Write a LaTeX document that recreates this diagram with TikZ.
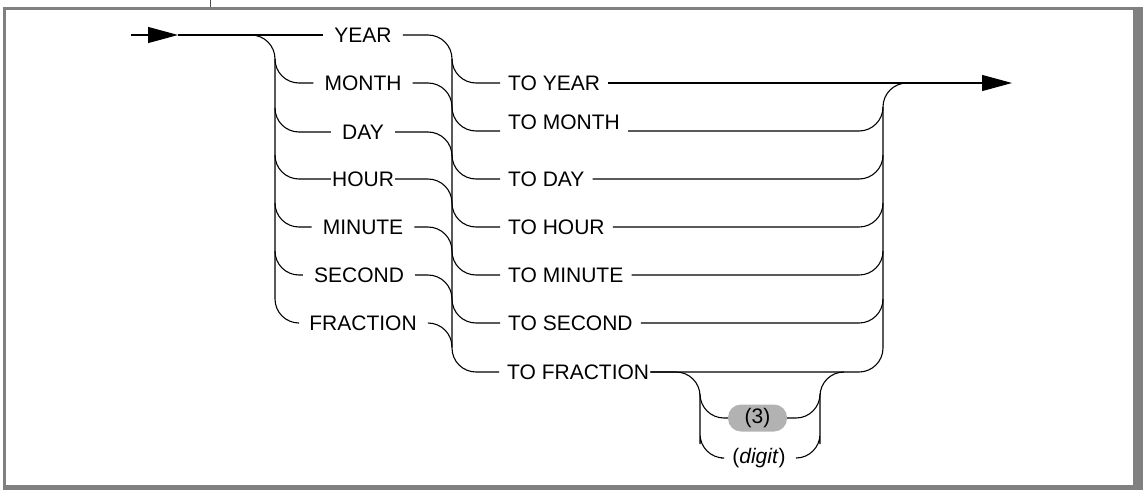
\documentclass[tikz,border=0pt]{standalone}
\usepackage{fontspec}
\setmainfont{Liberation Sans}
\usetikzlibrary{arrows.meta}

\begin{document}
\begin{tikzpicture}[x=1pt, y=-1pt,
    rail/.style={line width=1.1pt, rounded corners=24pt},
    arrow/.style={line width=1.1pt, -{Triangle[length=30pt, width=16pt]}},
    kw/.style={font=\fontsize{21}{25}\selectfont, inner xsep=11pt, inner ysep=2pt},
    tokw/.style={kw, anchor=west, inner xsep=8pt},
    opt/.style={kw, fill=black!30, rounded corners=13pt, minimum width=59pt, minimum height=27pt, inner xsep=0pt}
]
    \useasboundingbox (0,0) rectangle (1146,490);
    % frame
    \fill[black!50] (3,7) rectangle (1143,9.5);
    \fill[black!50] (3,7) rectangle (5.5,490);
    \fill[black!50] (1133,7) rectangle (1143,490);
    \fill[black!50] (3,485) rectangle (1143,490);
    \draw[black!70, line width=1pt] (210.5,0) -- (210.5,7);

    % columns of the brackets
    \coordinate (start) at (131,35);
    \coordinate (entry) at (178,35);
    \coordinate (lb) at (275,180);
    \coordinate (mb) at (452,200);
    \coordinate (rb) at (883,200);
    \coordinate (sl) at (700,420);
    \coordinate (sr) at (820,420);
    \coordinate (finish) at (1012,83);

    % first qualifier
    \node[kw] (year) at (363,35) {YEAR};
    \node[kw] (month) at (363,83) {MONTH};
    \node[kw] (day) at (363,132) {DAY};
    \node[kw, inner xsep=1pt] (hour) at (363,179) {HOUR};
    \node[kw] (minute) at (363,227) {MINUTE};
    \node[kw] (second) at (359,275) {SECOND};
    \node[kw] (fraction) at (363,323) {FRACTION};

    % last qualifier
    \node[tokw] (toyear) at (500,83) {TO YEAR};
    \node[tokw] (tomonth) at (500,122) {TO MONTH};
    \node[tokw] (today) at (500,179) {TO DAY};
    \node[tokw] (tohour) at (500,227) {TO HOUR};
    \node[tokw] (tominute) at (500,275) {TO MINUTE};
    \node[tokw] (tosecond) at (500,323) {TO SECOND};
    \node[tokw, inner xsep=1pt] (tofrac) at (506,372) {TO FRACTION};

    % precision
    \node[opt] (three) at (757.5,418) {(3)};
    \node[kw] (digit) at (759,458) {(\textit{digit})};

    % entry and left bracket
    \draw[arrow] (start) -- (entry);
    \draw[rail] (entry) -- (year.west);
    \draw[rail] (entry) -| (lb) |- (fraction.west);
    \foreach \n in {month,day,hour,minute,second}
        \draw[rail] ([yshift=24pt]lb |- \n.west) |- (\n.west);

    % middle bracket
    \draw[rail] (year.east) -| (mb) |- ([xshift=-7pt]tofrac.west);
    \foreach \n in {month,day,hour,minute,second,fraction}
        \draw[rail] (\n.east) -| ([yshift=-24pt]mb |- \n.east);
    \foreach \n in {toyear,today,tohour,tominute,tosecond}
        \draw[rail] ([yshift=24pt]mb |- \n.west) |- (\n.west);
    \draw[rail] ([yshift=15pt]mb |- tomonth.west) |- ([yshift=-9pt]tomonth.west);

    % right bracket and exit
    \draw[arrow] (toyear.east) -- (finish);
    \draw[rail] (tofrac.east) -| (rb) |- ([xshift=24pt]rb |- finish);
    \foreach \n in {today,tohour,tominute,tosecond}
        \draw[rail] (\n.east) -| ([yshift=24pt]rb |- \n.east);
    \draw[rail] ([yshift=-9pt]tomonth.east) -| ([yshift=15pt]rb |- tomonth.east);

    % optional precision
    \draw[rail] (tofrac.east) -| (sl) |- (digit.west);
    \draw[rail] ([yshift=24pt]sl |- three.west) |- (three.west);
    \draw[rail] (three.east) -| ([yshift=24pt]sr |- three.east);
    \draw[rail] (digit.east) -| (sr) |- ([xshift=24pt]sr |- tofrac.east);
\end{tikzpicture}
\end{document}
